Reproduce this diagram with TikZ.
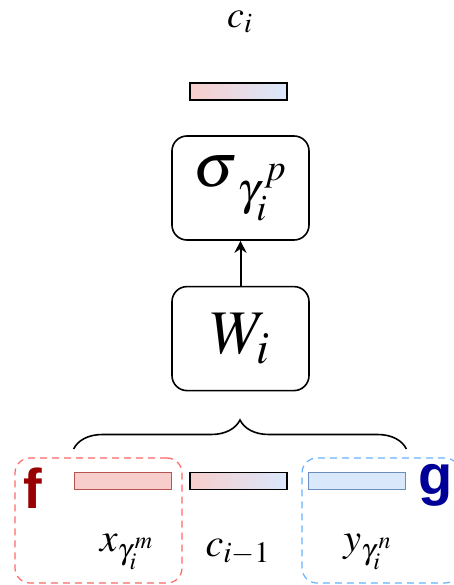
\documentclass[tikz,border=0pt]{standalone}
\usepackage{amsmath}
\usepackage{fontspec}
\usepackage{mathptmx}
\usepackage{tikz}
\usetikzlibrary{arrows.meta, positioning, decorations.pathreplacing}
\newfontfamily\tagfont{Liberation Sans}
\definecolor{vecred}{HTML}{F8CECC}
\definecolor{vecredline}{HTML}{B85450}
\definecolor{vecblue}{HTML}{DAE8FC}
\definecolor{vecblueline}{HTML}{6C8EBF}
\definecolor{fred}{HTML}{990000}
\definecolor{gblue}{HTML}{000099}
\definecolor{dashred}{HTML}{FF6666}
\definecolor{dashblue}{HTML}{66B2FF}

\begin{document}
\begin{tikzpicture}[
    x=0.5pt, y=0.5pt,
    >={Stealth[length=6pt, width=6pt]},
    opbox/.style={draw, rounded corners=7.5pt, line width=0.8pt,
                  minimum width=68.5pt, minimum height=52pt,
                  font=\fontsize{31}{36}\selectfont},
    vecbar/.style={draw, minimum width=48.5pt, minimum height=8.5pt,
                   inner sep=0pt, line width=0.9pt},
    mixbar/.style={vecbar, left color=vecred, right color=vecblue},
    group/.style={draw, dashed, dash pattern=on 3.5pt off 2.5pt, line width=0.6pt,
                  rounded corners=7.5pt, minimum height=62.5pt},
    veclabel/.style={font=\fontsize{20}{24}\selectfont},
    tag/.style={font=\tagfont\bfseries\fontsize{28}{32}\selectfont},
]
  \useasboundingbox (0,0) rectangle (454,585);
  % stacked operations
  \node[opbox] (sigma) at (240.5,397) {$\boldsymbol{\sigma}_{\gamma_i^{\,p}}$};
  \node[opbox, below=22.5pt of sigma] (weight) {$W_i$};
  \node[mixbar, above=17pt of sigma, xshift=-1pt] (cout) {};
  \node[font=\fontsize{19}{22}\selectfont] (coutlbl) at (240,563) {$c_i$};
  \draw[->, line width=1pt] (weight) -- (sigma);

  % groups of inputs
  \node[group, draw=dashred, minimum width=83.5pt] (fgroup) at (98.5,64.5) {};
  \node[group, draw=dashblue, minimum width=79pt] (ggroup) at (381,64.5) {};
  \node[tag, text=fred] (ftag) at (33,97) {f};
  \node[tag, text=gblue] (gtag) at (436,100) {g};

  % input vectors
  \node[mixbar] (cin) at (238.5,104) {};
  \node[vecbar, fill=vecred, draw=vecredline] (xin) at (123,104) {};
  \node[vecbar, fill=vecblue, draw=vecblueline] (yin) at (357,104) {};
  \node[veclabel] (xlbl) at (127,33) {$x_{\gamma_i^{\,m}}$};
  \node[veclabel] (clbl) at (238,33) {$c_{i-1}$};
  \node[veclabel] (ylbl) at (368,33) {$y_{\gamma_i^{\,n}}$};

  \coordinate (bl) at (xin.west |- 0,136);
  \coordinate (br) at (yin.east |- 0,136);
  \draw[decorate, decoration={brace, amplitude=14.5pt}, line width=0.8pt] (bl) -- (br);
\end{tikzpicture}
\end{document}
